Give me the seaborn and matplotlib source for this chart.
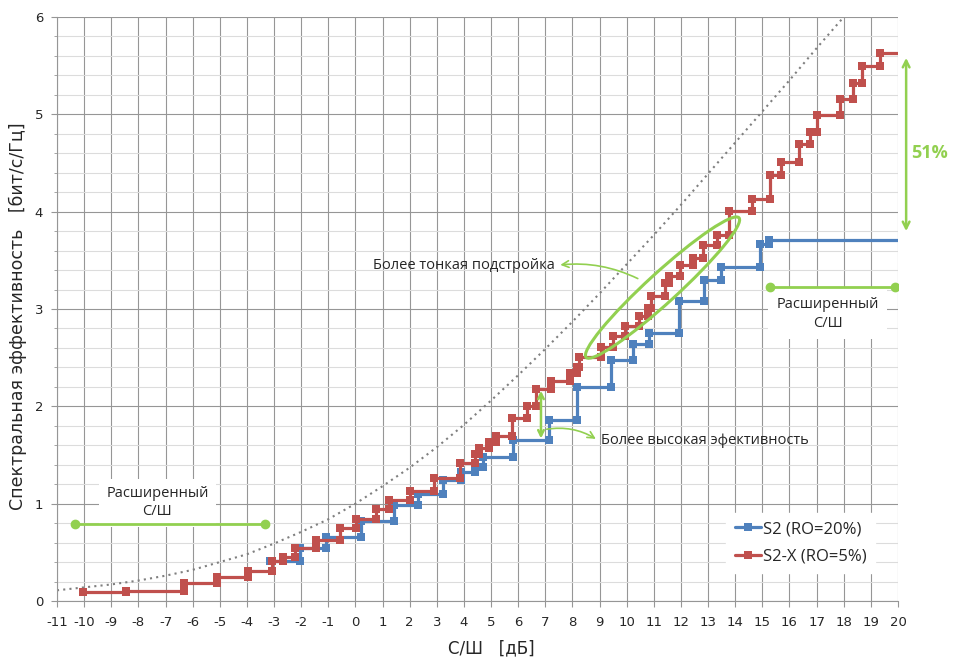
import numpy as np
import pandas as pd
import matplotlib
matplotlib.use("Agg")
import matplotlib.pyplot as plt
import seaborn as sns
from matplotlib.patches import Ellipse
from matplotlib.transforms import ScaledTranslation

# ---- data -------------------------------------------------------------
# DVB-S2, roll-off 20 %: SNR where each MODCOD starts [dB] and its efficiency [bit/s/Hz]
s2_snr = [-3.14, -2.03, -1.09, 0.21, 1.44, 2.31, 3.24, 3.89, 4.39, 4.71,
          5.80, 7.12, 8.18, 9.42, 10.24, 10.82, 11.94, 12.85, 13.49, 14.90, 15.26]
s2_eff = [0.408, 0.547, 0.658, 0.824, 0.990, 1.102, 1.239, 1.323, 1.379, 1.483,
          1.651, 1.857, 2.198, 2.473, 2.638, 2.750, 3.086, 3.293, 3.433, 3.664, 3.711]

# DVB-S2X, roll-off 5 %
s2x_snr = [-10.05, -8.46, -6.31, -5.11, -3.95, -3.09, -2.68, -2.24, -1.45, -0.55,
           0.01, 0.76, 1.25, 2.02, 2.90, 3.84, 4.40, 4.55, 4.92, 5.20,
           5.76, 6.34, 6.67, 7.21, 7.90, 8.18, 8.23, 9.07, 9.50, 9.93,
           10.45, 10.79, 10.88, 11.40, 11.57, 11.95, 12.46, 12.83, 13.33, 13.78,
           14.60, 15.27, 15.67, 16.35, 16.76, 17.00, 17.86, 18.35, 18.66, 19.34]
s2x_eff = [0.095, 0.105, 0.185, 0.250, 0.310, 0.414, 0.455, 0.541, 0.625, 0.745,
           0.847, 0.945, 1.037, 1.135, 1.262, 1.418, 1.514, 1.569, 1.631, 1.695,
           1.883, 2.000, 2.176, 2.256, 2.341, 2.405, 2.510, 2.614, 2.720, 2.826,
           2.927, 3.015, 3.135, 3.265, 3.340, 3.450, 3.525, 3.655, 3.764, 4.005,
           4.130, 4.380, 4.513, 4.700, 4.822, 4.995, 5.157, 5.320, 5.500, 5.630]

# Shannon limit
shannon_snr = list(range(-11, 19))
shannon_eff = [0.11, 0.14, 0.17, 0.21, 0.26, 0.32, 0.40, 0.48, 0.59, 0.71,
               0.84, 1.00, 1.18, 1.37, 1.58, 1.81, 2.06, 2.32, 2.59, 2.87,
               3.16, 3.46, 3.76, 4.07, 4.39, 4.71, 5.03, 5.35, 5.68, 6.00]

x_ticks = list(range(-11, 21))
y_ticks = list(range(0, 7))

BLUE = "#4F81BD"
RED = "#C0504D"
GREEN = "#92D050"
GRID = "#969696"


def staircase(snr, eff, x_end):
    """Corner points of a step curve: horizontal run, then vertical jump."""
    xs, ys = [snr[0]], [eff[0]]
    for i in range(1, len(snr)):
        xs += [snr[i], snr[i]]
        ys += [eff[i - 1], eff[i]]
    xs.append(x_end)
    ys.append(eff[-1])
    return pd.DataFrame({"snr": xs, "eff": ys})


sns.set_theme(style="white")
plt.rcParams["font.family"] = ["Liberation Sans Narrow", "DejaVu Sans"]
plt.rcParams["axes.unicode_minus"] = False
ANNOT_FONT = ["Open Sans", "DejaVu Sans"]

fig = plt.figure(figsize=(9.54, 6.57), dpi=100)
ax = fig.add_axes([57 / 954, 56 / 657, 841 / 954, 584 / 657])

ax.set_xlim(-11, 20)
ax.set_ylim(0, 6)
ax.set_xticks(x_ticks)
ax.set_yticks(y_ticks)
ax.set_yticks(np.arange(0, 6.01, 0.2), minor=True)
ax.set_axisbelow(True)
ax.grid(which="major", axis="both", color=GRID, lw=0.8)
ax.grid(which="minor", axis="y", color="#dcdcdc", lw=0.8)
for side in ("top", "right"):
    ax.spines[side].set_visible(False)
for side in ("left", "bottom"):
    ax.spines[side].set_color(GRID)
    ax.spines[side].set_linewidth(0.8)
ax.tick_params(axis="x", direction="out", length=4, width=0.8, color=GRID,
               labelsize=9.5, pad=7, bottom=True)
ax.tick_params(axis="y", which="major", direction="out", length=4, width=0.8,
               color=GRID, labelsize=9.5, pad=6, left=True)
ax.tick_params(axis="y", which="minor", direction="out", length=2, width=0.6,
               color=GRID, left=True)

# Shannon bound
sns.lineplot(x=shannon_snr, y=shannon_eff, ax=ax, color="#7f7f7f",
             linestyle=(0, (1, 2)), lw=1.5, sort=False, estimator=None, zorder=2)

# step curves
s2_df = staircase(s2_snr, s2_eff, 20)
s2x_df = staircase(s2x_snr, s2x_eff, 20)
sns.lineplot(data=s2_df, x="snr", y="eff", ax=ax, color=BLUE, lw=2.3,
             marker="s", markersize=5.5, markeredgewidth=0, sort=False,
             estimator=None, markevery=slice(0, -1), label="S2 (RO=20%)", zorder=3)
sns.lineplot(data=s2x_df, x="snr", y="eff", ax=ax, color=RED, lw=2.3,
             marker="s", markersize=5.5, markeredgewidth=0, sort=False,
             estimator=None, markevery=slice(0, -1), label="S2-X (RO=5%)", zorder=4)
ax.set_xlabel("")
ax.set_ylabel("")

leg = ax.legend(loc="upper left", bbox_to_anchor=(0.786, 0.165), frameon=True,
                fancybox=False, edgecolor="white", facecolor="white", framealpha=1,
                prop={"family": ANNOT_FONT, "size": 12}, handlelength=1.6,
                handletextpad=0.1, borderpad=0.5, labelspacing=0.7)

# axis titles
fig.text(491 / 954, 1 - 648 / 657, "С/Ш   [дБ]", ha="center", va="center", fontsize=12)
fig.text(18 / 954, 1 - 316 / 657, "Спектральная эффективность   [бит/с/Гц]",
         ha="center", va="center", rotation=90, fontsize=12.5)

# extended SNR range markers
ax.plot([-10.34, -3.33], [0.79, 0.79], color=GREEN, lw=2, marker="o",
        markersize=6, zorder=5)
ax.text(-7.3, 1.01, "Расширенный\nС/Ш", ha="center", va="center",
        fontsize=10.5, family=ANNOT_FONT, linespacing=1.3, zorder=1.5,
        bbox=dict(boxstyle="square,pad=0.5", fc="white", ec="none"))
ax.plot([15.28, 19.89], [3.23, 3.23], color=GREEN, lw=2, marker="o",
        markersize=6, zorder=5)
ax.text(17.4, 2.95, "Расширенный\nС/Ш", ha="center", va="center",
        fontsize=10.5, family=ANNOT_FONT, linespacing=1.3, zorder=1.5,
        bbox=dict(boxstyle="square,pad=0.6", fc="white", ec="none"))

# fine-tuning ellipse
centre = ScaledTranslation(11.32, 3.22, ax.transData)
ax.add_patch(Ellipse((0, 0), 2.07, 0.30, angle=42.4, fill=False, ec=GREEN,
                     lw=2.2, transform=fig.dpi_scale_trans + centre, zorder=6))
ax.annotate("", xy=(7.45, 3.45), xytext=(10.5, 3.3),
            arrowprops=dict(arrowstyle="->", color=GREEN, lw=1.2,
                            connectionstyle="arc3,rad=0.15"), zorder=6)
ax.text(7.35, 3.45, "Более тонкая подстройка", ha="right", va="center",
        fontsize=10.5, family=ANNOT_FONT, zorder=6)

# higher efficiency arrow
ax.annotate("", xy=(6.84, 2.16), xytext=(6.84, 1.67),
            arrowprops=dict(arrowstyle="<->", color=GREEN, lw=1.8,
                            mutation_scale=10, shrinkA=0, shrinkB=0), zorder=6)
ax.annotate("", xy=(8.95, 1.65), xytext=(6.95, 1.76),
            arrowprops=dict(arrowstyle="->", color=GREEN, lw=1.2,
                            connectionstyle="arc3,rad=-0.2"), zorder=6)
ax.text(9.05, 1.65, "Более высокая эфективность", ha="left", va="center",
        fontsize=10.5, family=ANNOT_FONT, zorder=6)

# gain at the top of the range
ax.annotate("", xy=(20.3, 5.58), xytext=(20.3, 3.80), annotation_clip=False,
            arrowprops=dict(arrowstyle="<->", color=GREEN, lw=1.8,
                            mutation_scale=12, shrinkA=0, shrinkB=0))
ax.text(21.15, 4.6, "51%", ha="center", va="center", fontsize=13,
        fontweight="bold", color=GREEN, family=ANNOT_FONT, clip_on=False)

fig.savefig("out.png", dpi=100)
